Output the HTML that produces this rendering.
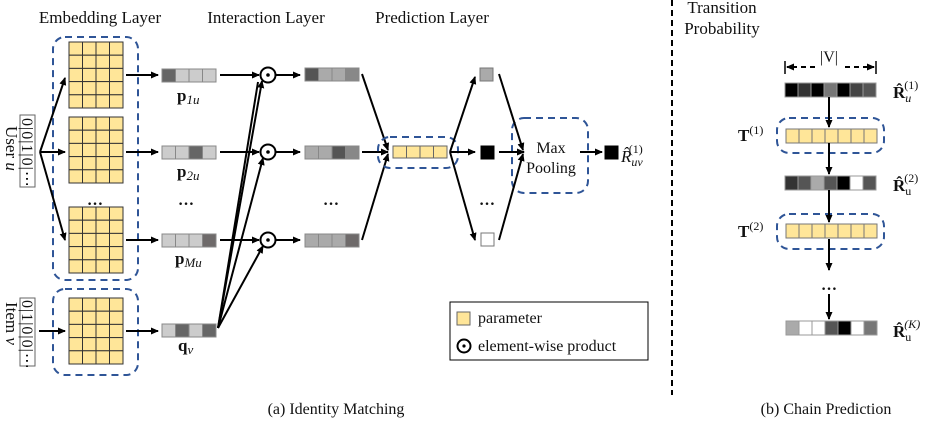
<!DOCTYPE html>
<html><head><meta charset="utf-8"><style>
body{margin:0;background:#fff}
svg{display:block}
text{font-family:"Liberation Serif",serif;fill:#111}
.h{font-size:17px}
.b{font-weight:bold}
</style></head><body>
<svg id="s" width="927" height="425" viewBox="0 0 927 425" xmlns="http://www.w3.org/2000/svg">
<defs><marker id="a" markerWidth="8" markerHeight="8" refX="7" refY="4" orient="auto" markerUnits="userSpaceOnUse"><path d="M0,0.5 L8,4 L0,7.5 Z" fill="#000"/></marker></defs>
<g id="shapes"></g>
<text class="h" x="100" y="23" text-anchor="middle">Embedding Layer</text>
<text class="h" x="266" y="23" text-anchor="middle">Interaction Layer</text>
<text class="h" x="432" y="23" text-anchor="middle">Prediction Layer</text>
<text class="h" x="722" y="13" text-anchor="middle">Transition</text>
<text class="h" x="722" y="34" text-anchor="middle">Probability</text>
<text class="h" transform="translate(6,126) rotate(90)">User <tspan font-style="italic">u</tspan></text>
<text class="h" transform="translate(6,302) rotate(90)">Item <tspan font-style="italic">v</tspan></text>
<text font-size="16" transform="translate(22,118) rotate(90)" letter-spacing="1">0|0|1|0|⋯</text>
<text font-size="16" transform="translate(22,300) rotate(90)" letter-spacing="1">0|1|0|0|⋯</text>
<text class="b" x="95" y="205" text-anchor="middle" font-size="16">…</text>
<text class="b" x="186" y="205" text-anchor="middle" font-size="16">…</text>
<text class="b" x="331" y="205" text-anchor="middle" font-size="16">…</text>
<text class="b" x="487" y="205" text-anchor="middle" font-size="16">…</text>
<text class="b" x="829" y="290" text-anchor="middle" font-size="16">…</text>
<text x="177" y="101" font-size="17"><tspan font-weight="bold">p</tspan><tspan font-size="13" font-style="italic" dy="3">1u</tspan></text>
<text x="177" y="177" font-size="17"><tspan font-weight="bold">p</tspan><tspan font-size="13" font-style="italic" dy="3">2u</tspan></text>
<text x="175" y="264" font-size="17"><tspan font-weight="bold">p</tspan><tspan font-size="13" font-style="italic" dy="3">Mu</tspan></text>
<text x="178" y="351" font-size="17"><tspan font-weight="bold">q</tspan><tspan font-size="13" font-style="italic" dy="3">v</tspan></text>
<text x="551" y="153" text-anchor="middle" font-size="16">Max</text>
<text x="551" y="173" text-anchor="middle" font-size="16">Pooling</text>
<text x="621" y="162" font-size="17" font-style="italic">R̂<tspan font-size="12" dy="4">uv</tspan><tspan font-size="12" font-style="normal" dx="-14" dy="-13">(1)</tspan></text>
<text x="478" y="323" font-size="16">parameter</text>
<text x="478" y="351" font-size="16">element-wise product</text>
<text x="829" y="62" text-anchor="middle" font-size="16">|V|</text>
<text x="738" y="141" font-size="17" font-weight="bold">T<tspan font-size="12" font-weight="normal" dy="-7">(1)</tspan></text>
<text x="738" y="237" font-size="17" font-weight="bold">T<tspan font-size="12" font-weight="normal" dy="-7">(2)</tspan></text>
<text x="893" y="98" font-size="17" font-weight="bold">R̂<tspan font-size="12" font-weight="normal" font-style="italic" dy="4">u</tspan><tspan font-size="12" font-weight="normal" dx="-7" dy="-13">(1)</tspan></text>
<text x="893" y="191" font-size="17" font-weight="bold">R̂<tspan font-size="12" font-weight="normal" dy="4">u</tspan><tspan font-size="12" font-weight="normal" dx="-7" dy="-13">(2)</tspan></text>
<text x="893" y="337" font-size="17" font-weight="bold">R̂<tspan font-size="12" font-weight="normal" dy="4">u</tspan><tspan font-size="12" font-weight="normal" font-style="italic" dx="-7" dy="-13">(K)</tspan></text>
<text x="336" y="414" text-anchor="middle" font-size="16">(a)  Identity Matching</text>
<text x="826" y="414" text-anchor="middle" font-size="16">(b)  Chain Prediction</text>
</svg>
<script>
var g=document.getElementById('shapes'),h='';
function R(x,y,w,hh,f,s,extra){h+='<rect x="'+x+'" y="'+y+'" width="'+w+'" height="'+hh+'" fill="'+f+'" stroke="'+(s||'#555')+'" stroke-width="1" '+(extra||'')+'/>';}
function L(x1,y1,x2,y2,arr,extra){h+='<line x1="'+x1+'" y1="'+y1+'" x2="'+x2+'" y2="'+y2+'" stroke="#000" stroke-width="2" '+(arr?'marker-end="url(#a)"':'')+' '+(extra||'')+'/>';}
function D(x,y,w,hh){h+='<rect x="'+x+'" y="'+y+'" width="'+w+'" height="'+hh+'" rx="12" fill="none" stroke="#2f5597" stroke-width="2" stroke-dasharray="7,5"/>';}
function grid(x,y){for(var r=0;r<5;r++)for(var c=0;c<4;c++)R(x+c*13.5,y+r*13.2,13.5,13.2,'#ffe699','#333');}
function vec(x,y,cols,w,hh,s){for(var i=0;i<cols.length;i++)R(x+i*w,y,w,hh,cols[i],s||'#888');}
D(53,37,85,243);D(53,289,85,86);
grid(69,42);grid(69,117);grid(69,207);grid(69,298);
R(20,115,15,72,'#fff','#666');R(20,298,15,68,'#fff','#666');
L(40,152,65,78,1);L(40,152,65,152,1);L(40,152,65,240,1);L(39,331,65,331,1);
[75,152,240,331].forEach(function(y){L(126,y,158,y,1);});
vec(162,69,['#666','#ccc','#ccc','#ccc'],13.5,13);
vec(162,146,['#ccc','#ccc','#666','#ccc'],13.5,13);
vec(162,234,['#ccc','#ccc','#ccc','#6e6a6a'],13.5,13);
vec(162,324,['#ccc','#666','#ccc','#666'],13.5,13);
[75,152,240].forEach(function(y){L(220,y,259,y,1);L(276,y,300,y,1);h+='<circle cx="268" cy="'+y+'" r="7.5" fill="#fff" stroke="#000" stroke-width="2"/><circle cx="268" cy="'+y+'" r="1.8" fill="#000"/>';});
L(218,328,262,81,1);L(218,328,263,158,1);L(218,328,263,246,1);L(218,328,258,82,0);
vec(305,68,['#555','#aaa','#aaa','#888'],13.5,13);
vec(305,146,['#aaa','#aaa','#555','#888'],13.5,13);
vec(305,234,['#aaa','#aaa','#aaa','#6e6a6a'],13.5,13);
L(362,74,388,150,1);L(362,152,388,152,1);L(362,240,388,154,1);
D(378,137,80,31);
vec(393,146,['#ffe699','#ffe699','#ffe699','#ffe699'],13.5,12,'#666');
L(450,152,475,77,1);L(450,152,475,152,1);L(450,152,475,240,1);
R(480,68,13,13,'#aaa','#777');R(481,146,13,13,'#000','#000');R(481,233,13,13,'#fff','#777');
D(512,118,76,75);
L(499,74,523,150,1);L(499,152,524,152,1);L(499,240,523,154,1);
L(580,152,602,152,1);R(605,146,13,13,'#000','#000');
R(450,302,198,58,'#fff','#000','stroke-width="2"');
R(457,312,13,13,'#ffe699','#666');
h+='<circle cx="464" cy="346" r="6.5" fill="#fff" stroke="#000" stroke-width="2"/><circle cx="464" cy="346" r="1.6" fill="#000"/>';
h+='<line x1="672" y1="0" x2="672" y2="395" stroke="#000" stroke-width="2" stroke-dasharray="6,4"/>';
h+='<line x1="785" y1="61" x2="785" y2="74" stroke="#000" stroke-width="1.5"/><line x1="876" y1="61" x2="876" y2="74" stroke="#000" stroke-width="1.5"/>';
L(815,67,787,67,1,'stroke-dasharray="5,4"');L(845,67,874,67,1,'stroke-dasharray="5,4"');
vec(785,83,['#000','#333','#000','#777','#000','#444','#555'],13,14,'#999');
D(777,118,107,35);vec(786,129,['#ffe699','#ffe699','#ffe699','#ffe699','#ffe699','#ffe699','#ffe699'],13,14,'#777');
vec(785,176,['#333','#555','#aaa','#555','#000','#fff','#555'],13,14,'#999');
D(777,214,107,35);vec(786,224,['#ffe699','#ffe699','#ffe699','#ffe699','#ffe699','#ffe699','#ffe699'],13,14,'#777');
vec(786,321,['#aaa','#fff','#fff','#555','#000','#fff','#777'],13,14,'#999');
L(829,97,829,127,1);L(829,143,829,174,1);L(829,190,829,222,1);L(829,239,829,270,1);L(829,294,829,319,1);
g.innerHTML=h;
</script>
</body></html>
